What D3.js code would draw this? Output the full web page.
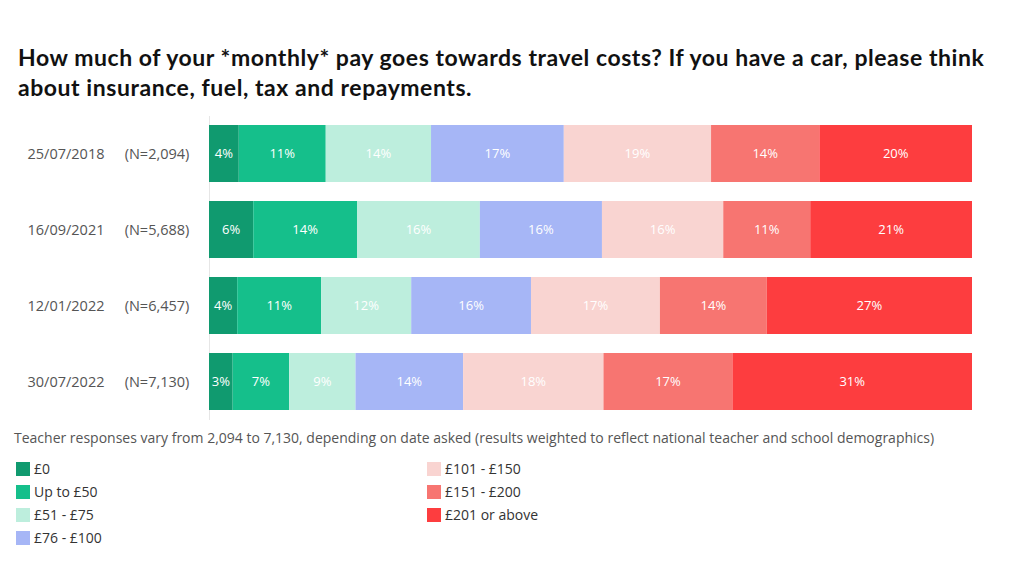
<!DOCTYPE html>
<html>
<head>
  <meta charset="utf-8">
  <title>Monthly travel costs</title>
  <style>
    body { margin: 0; background: #fff; }
    svg text { font-family: "Open Sans", Lato, sans-serif; }
    svg text.title { font-family: Lato, "Open Sans", sans-serif; }
  </style>
</head>
<body>
  <svg id="chart" width="1024" height="569"></svg>

  <script src="https://d3js.org/d3.v7.min.js"></script>
  <script>
    // data
    const dates = ["25/07/2018", "16/09/2021", "12/01/2022", "30/07/2022"];
    const sampleSizes = ["(N=2,094)", "(N=5,688)", "(N=6,457)", "(N=7,130)"];
    const bands = ["£0", "Up to £50", "£51 - £75", "£76 - £100", "£101 - £150", "£151 - £200", "£201 or above"];
    const bandColors = ["#109a6f", "#15bf8b", "#bdeedd", "#a6b6f6", "#f9d4d1", "#f77571", "#fd3d3f"];

    // share of respondents per band (%), one array per date
    const share2018 = [3.9, 11.4, 13.8, 17.4, 19.3, 14.2, 20.0];
    const share2021 = [5.8, 13.6, 16.1, 16.0, 15.9, 11.4, 21.2];
    const share2022a = [3.7, 11.0, 11.8, 15.7, 16.9, 14.0, 26.9];
    const share2022b = [3.1, 7.4, 8.7, 14.1, 18.4, 16.9, 31.4];
    const shares = [share2018, share2021, share2022a, share2022b];

    const svg = d3.select("#chart");

    // title
    const title = svg.append("text")
      .attr("class", "title")
      .attr("x", 18)
      .attr("y", 66)
      .style("font-size", "23px")
      .style("font-weight", "700")
      .style("letter-spacing", "0.55px")
      .style("fill", "#111");
    title.append("tspan").attr("x", 18).attr("y", 66)
      .text("How much of your *monthly* pay goes towards travel costs? If you have a car, please think");
    title.append("tspan").attr("x", 18).attr("y", 96)
      .text("about insurance, fuel, tax and repayments.");

    // build stacked rows
    const rows = dates.map((d, i) => {
      const obj = { date: d };
      bands.forEach((b, j) => { obj[b] = shares[i][j]; });
      return obj;
    });
    const stacked = d3.stack().keys(bands)(rows);

    const x = d3.scaleLinear().domain([0, 100]).range([209, 972]);
    const y = d3.scaleBand().domain(dates).range([115.5, 419.5])
      .paddingInner(0.25).paddingOuter(0.125);
    const color = d3.scaleOrdinal().domain(bands).range(bandColors);

    // faint axis line on the left
    const yAxis = d3.axisLeft(y).tickSize(0).tickFormat("");
    svg.append("g")
      .attr("transform", "translate(209,0)")
      .call(yAxis)
      .call(g => g.select(".domain").attr("stroke", "#e6e6e6"));

    const series = svg.append("g").selectAll("g")
      .data(stacked)
      .join("g")
      .attr("fill", d => color(d.key));

    series.selectAll("rect")
      .data(d => d)
      .join("rect")
      .attr("x", d => x(d[0]))
      .attr("y", d => y(d.data.date))
      .attr("width", d => x(d[1]) - x(d[0]))
      .attr("height", y.bandwidth());

    // percentage labels
    const fmt = d3.format(".0f");
    svg.append("g").selectAll("g")
      .data(stacked)
      .join("g")
      .selectAll("text")
      .data(d => d)
      .join("text")
      .attr("x", d => (x(d[0]) + x(d[1])) / 2)
      .attr("y", d => y(d.data.date) + y.bandwidth() / 2)
      .attr("dy", "0.35em")
      .attr("text-anchor", "middle")
      .style("font-size", "13px")
      .style("fill", "#fff")
      .text(d => fmt(d[1] - d[0]) + "%");

    // row labels
    const rowLabels = svg.append("g");
    rowLabels.selectAll(".date")
      .data(dates)
      .join("text")
      .attr("class", "date")
      .attr("x", 66)
      .attr("y", d => y(d) + y.bandwidth() / 2)
      .attr("dy", "0.35em")
      .attr("text-anchor", "middle")
      .style("font-size", "14.5px")
      .style("fill", "#555")
      .text(d => d);
    rowLabels.selectAll(".n")
      .data(sampleSizes)
      .join("text")
      .attr("class", "n")
      .attr("x", 157)
      .attr("y", (d, i) => y(dates[i]) + y.bandwidth() / 2)
      .attr("dy", "0.35em")
      .attr("text-anchor", "middle")
      .style("font-size", "14.5px")
      .style("fill", "#555")
      .text(d => d);

    // footnote
    svg.append("text")
      .attr("x", 14)
      .attr("y", 443)
      .style("font-size", "14px")
      .style("fill", "#555")
      .text("Teacher responses vary from 2,094 to 7,130, depending on date asked (results weighted to reflect national teacher and school demographics)");

    // legend
    const legend = svg.append("g").selectAll("g")
      .data(bands)
      .join("g")
      .attr("transform", (d, i) => i < 4
        ? `translate(16,${462 + i * 23})`
        : `translate(427,${462 + (i - 4) * 23})`);
    legend.append("rect")
      .attr("width", 14)
      .attr("height", 14)
      .attr("fill", d => color(d));
    legend.append("text")
      .attr("x", 18)
      .attr("y", 7)
      .attr("dy", "0.35em")
      .style("font-size", "14px")
      .style("fill", "#333")
      .text(d => d);
  </script>
</body>
</html>
